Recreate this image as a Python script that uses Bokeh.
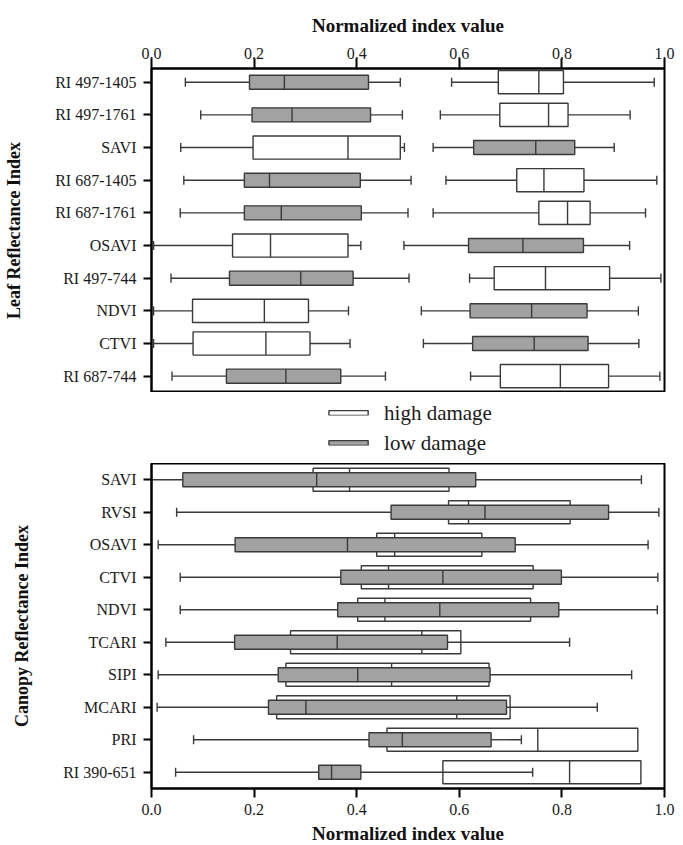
from bokeh.plotting import figure
from bokeh.models import Range1d, FixedTicker, Legend, LegendItem, ColumnDataSource, PrintfTickFormatter
from bokeh.layouts import column
from bokeh.embed import file_html
from bokeh.resources import INLINE

# ---------------- data ----------------
leaf_labels = ["RI 497-1405", "RI 497-1761", "SAVI", "RI 687-1405", "RI 687-1761",
               "OSAVI", "RI 497-744", "NDVI", "CTVI", "RI 687-744"]
# high damage (white): whisker low, Q1, median, Q3, whisker high
leaf_high_lo = [0.585, 0.563, 0.057, 0.574, 0.549, 0.004, 0.620, 0.004, 0.004, 0.622]
leaf_high_q1 = [0.676, 0.679, 0.198, 0.712, 0.755, 0.158, 0.668, 0.080, 0.081, 0.680]
leaf_high_med = [0.755, 0.774, 0.383, 0.765, 0.811, 0.232, 0.768, 0.220, 0.223, 0.797]
leaf_high_q3 = [0.803, 0.812, 0.485, 0.843, 0.855, 0.383, 0.893, 0.306, 0.309, 0.891]
leaf_high_hi = [0.980, 0.933, 0.493, 0.985, 0.963, 0.408, 0.993, 0.384, 0.387, 0.991]
# low damage (gray)
leaf_low_lo = [0.066, 0.096, 0.549, 0.063, 0.056, 0.492, 0.038, 0.526, 0.530, 0.040]
leaf_low_q1 = [0.191, 0.196, 0.628, 0.181, 0.181, 0.618, 0.152, 0.621, 0.626, 0.146]
leaf_low_med = [0.259, 0.274, 0.749, 0.230, 0.253, 0.724, 0.291, 0.741, 0.746, 0.262]
leaf_low_q3 = [0.423, 0.427, 0.825, 0.407, 0.409, 0.842, 0.393, 0.849, 0.851, 0.369]
leaf_low_hi = [0.485, 0.489, 0.902, 0.506, 0.500, 0.932, 0.502, 0.949, 0.950, 0.456]

canopy_labels = ["SAVI", "RVSI", "OSAVI", "CTVI", "NDVI", "TCARI", "SIPI", "MCARI",
                 "PRI", "RI 390-651"]
canopy_high_q1 = [0.315, 0.579, 0.439, 0.409, 0.402, 0.271, 0.262, 0.244, 0.459, 0.568]
canopy_high_med = [0.386, 0.618, 0.474, 0.462, 0.455, 0.527, 0.468, 0.595, 0.753, 0.815]
canopy_high_q3 = [0.580, 0.816, 0.644, 0.744, 0.739, 0.603, 0.658, 0.699, 0.948, 0.954]
canopy_low_lo = [0.000, 0.049, 0.013, 0.056, 0.056, 0.028, 0.013, 0.011, 0.082, 0.047]
canopy_low_q1 = [0.061, 0.467, 0.163, 0.369, 0.363, 0.162, 0.247, 0.228, 0.424, 0.326]
canopy_low_med = [0.322, 0.650, 0.382, 0.568, 0.562, 0.362, 0.402, 0.301, 0.489, 0.351]
canopy_low_q3 = [0.632, 0.891, 0.709, 0.799, 0.794, 0.577, 0.660, 0.692, 0.662, 0.408]
canopy_low_hi = [0.955, 0.989, 0.968, 0.987, 0.986, 0.815, 0.936, 0.869, 0.721, 0.743]

x_ticks = [0.0, 0.2, 0.4, 0.6, 0.8, 1.0]
legend_labels = ["high damage", "low damage"]

# ---------------- style ----------------
FONT = "Liberation Serif"
EDGE = "#3a3a3a"
GRAY = "#a2a2a2"
H_WHITE = 0.71
H_GRAY = 0.43
CAP = 0.28


def style(p, labels, title_x, title_y):
    n = len(labels)
    p.xgrid.visible = False
    p.ygrid.visible = False
    p.outline_line_color = "black"
    p.outline_line_width = 2
    p.background_fill_color = "white"
    p.border_fill_color = "white"
    for ax in p.xaxis:
        ax.ticker = FixedTicker(ticks=x_ticks)
        ax.formatter = PrintfTickFormatter(format="%.1f")
        ax.axis_label = title_x
    for ax in p.yaxis:
        ax.ticker = FixedTicker(ticks=list(range(n)))
        ax.major_label_overrides = {n - 1 - i: lab for i, lab in enumerate(labels)}
        ax.axis_label = title_y
    for ax in list(p.xaxis) + list(p.yaxis):
        ax.axis_line_width = 2
        ax.axis_line_color = "black"
        ax.major_tick_line_width = 2
        ax.major_tick_line_color = "black"
        ax.major_tick_out = 8
        ax.major_tick_in = 0
        ax.minor_tick_line_color = None
        ax.major_label_text_font = FONT
        ax.major_label_text_font_size = "16px"
        ax.major_label_text_color = "#1a1a1a"
        ax.axis_label_text_font = FONT
        ax.axis_label_text_font_style = "bold"
        ax.axis_label_text_font_size = "19px"
        ax.axis_label_text_color = "#111111"
    for ax in p.yaxis:
        ax.major_label_standoff = 7
        ax.axis_label_standoff = 28
        ax.axis_label_text_font_size = "18px"


def draw_box(p, ys, q1, med, q3, h, fill, lo=None, hi=None):
    src = ColumnDataSource(dict(
        y=ys, q1=q1, med=med, q3=q3,
        y0=[y - h / 2 for y in ys], y1=[y + h / 2 for y in ys],
    ))
    r = p.hbar(y="y", left="q1", right="q3", height=h, source=src,
               fill_color=fill, line_color=EDGE, line_width=1.4)
    p.segment(x0="med", x1="med", y0="y0", y1="y1", source=src,
              line_color=EDGE, line_width=1.4)
    if lo is not None:
        wsrc = ColumnDataSource(dict(
            y=ys, lo=lo, hi=hi, q1=q1, q3=q3,
            c0=[y - CAP / 2 for y in ys], c1=[y + CAP / 2 for y in ys],
        ))
        p.segment(x0="lo", x1="q1", y0="y", y1="y", source=wsrc,
                  line_color=EDGE, line_width=1.4)
        p.segment(x0="q3", x1="hi", y0="y", y1="y", source=wsrc,
                  line_color=EDGE, line_width=1.4)
        p.segment(x0="lo", x1="lo", y0="c0", y1="c1", source=wsrc,
                  line_color=EDGE, line_width=1.4)
        p.segment(x0="hi", x1="hi", y0="c0", y1="c1", source=wsrc,
                  line_color=EDGE, line_width=1.4)
    return r


# ---------------- top panel: leaf ----------------
n1 = len(leaf_labels)
ys1 = [n1 - 1 - i for i in range(n1)]
p1 = figure(frame_width=513, frame_height=324, x_range=Range1d(0, 1), y_range=Range1d(-0.5, 9.42),
            x_axis_location="above", output_backend="svg", toolbar_location=None,
            min_border_left=151, min_border_right=19, min_border_top=68, min_border_bottom=0)
style(p1, leaf_labels, "Normalized index value", "Leaf Reflectance Index")
p1.xaxis.major_tick_out = 10
p1.xaxis.major_label_standoff = 0
p1.xaxis.axis_label_standoff = 9

draw_box(p1, ys1, leaf_high_q1, leaf_high_med, leaf_high_q3, H_WHITE, "white",
         leaf_high_lo, leaf_high_hi)
draw_box(p1, ys1, leaf_low_q1, leaf_low_med, leaf_low_q3, H_GRAY, GRAY,
         leaf_low_lo, leaf_low_hi)

# ---------------- legend strip ----------------
pl = figure(frame_width=513, frame_height=71, x_range=Range1d(0, 1), y_range=Range1d(0, 1),
            output_backend="svg", toolbar_location=None,
            min_border_left=151, min_border_right=19, min_border_top=0, min_border_bottom=0)
pl.axis.visible = False
pl.grid.visible = False
pl.outline_line_color = None
# proxy glyphs with NaN extents: nothing is drawn in the frame, only legend swatches
nan = float("nan")
rl_high = pl.hbar(y=[0.5], left=[nan], right=[nan], height=0.1,
                  fill_color="white", line_color=EDGE, line_width=1.4)
rl_low = pl.hbar(y=[0.5], left=[nan], right=[nan], height=0.1,
                 fill_color=GRAY, line_color=EDGE, line_width=1.4)
legend = Legend(items=[LegendItem(label=legend_labels[0], renderers=[rl_high]),
                       LegendItem(label=legend_labels[1], renderers=[rl_low])],
                location="center", orientation="vertical")
legend.border_line_color = None
legend.background_fill_alpha = 0
legend.label_text_font = FONT
legend.label_text_font_size = "21px"
legend.label_text_color = "#1a1a1a"
legend.glyph_width = 49
legend.glyph_height = 6
legend.label_height = 22
legend.spacing = 5
legend.padding = 4
legend.margin = 0
legend.label_standoff = 12
pl.add_layout(legend)

# ---------------- bottom panel: canopy ----------------
n2 = len(canopy_labels)
ys2 = [n2 - 1 - i for i in range(n2)]
p2 = figure(frame_width=513, frame_height=325, x_range=Range1d(0, 1), y_range=Range1d(-0.5, 9.5),
            x_axis_location="below", output_backend="svg", toolbar_location=None,
            min_border_left=151, min_border_right=19, min_border_top=0, min_border_bottom=0)
style(p2, canopy_labels, "Normalized index value", "Canopy Reflectance Index")
p2.xaxis.major_tick_out = 9
p2.xaxis.major_label_standoff = 6
p2.xaxis.axis_label_standoff = 5

draw_box(p2, ys2, canopy_high_q1, canopy_high_med, canopy_high_q3, H_WHITE, "white")
draw_box(p2, ys2, canopy_low_q1, canopy_low_med, canopy_low_q3, H_GRAY, GRAY,
         canopy_low_lo, canopy_low_hi)

layout = column(p1, pl, p2, spacing=0)
open("out.html", "w").write(file_html(layout, INLINE))
